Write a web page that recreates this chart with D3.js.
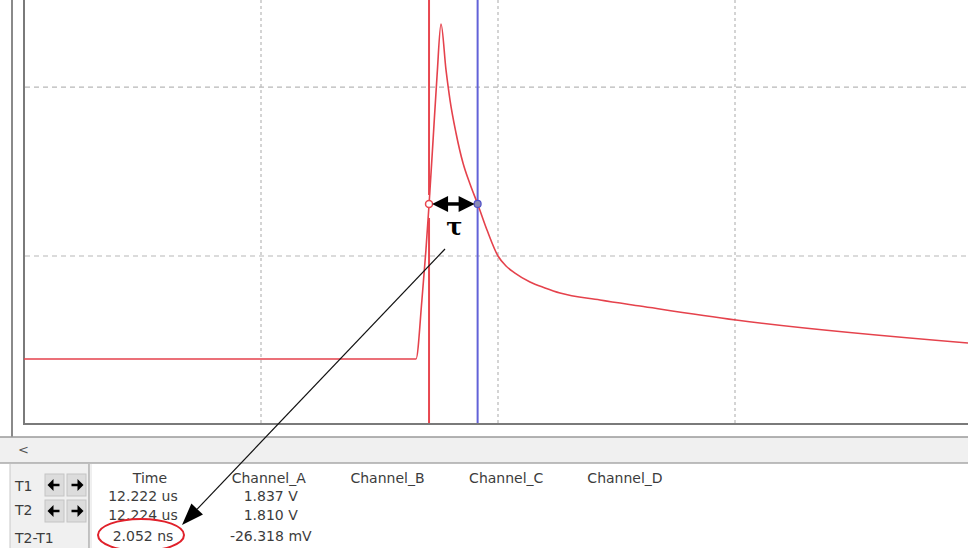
<!DOCTYPE html>
<html>
<head>
<meta charset="utf-8">
<script src="https://cdn.jsdelivr.net/npm/d3@7"></script>
<style>
  body { margin: 0; background: #fff; }
  svg { display: block; }
</style>
</head>
<body>
<script>
// waveform of Channel_A, time in ns, amplitude in screen divisions
var times  = [0, 16.54, 16.79, 16.96, 17.09, 17.26, 17.43, 17.595, 17.806, 17.975, 18.228, 18.523, 18.819, 19.156, 19.536, 20.000, 20.338, 20.717, 21.350, 21.983, 22.616, 24.304, 25.992, 30.042, 39.831];
var levels = [0.391, 0.391, 0.740, 1.036, 1.302, 1.686, 2.071, 2.373, 2.101, 1.923, 1.728, 1.550, 1.426, 1.302, 1.154, 1.000, 0.941, 0.899, 0.846, 0.811, 0.781, 0.740, 0.704, 0.621, 0.485];

// cursors
var cursorT1 = 17.09, cursorT2 = 19.14, cursorLevel = 1.308;

// grid
var xGrid = [10, 20, 30];
var yGrid = [1, 2];

// readout table
var columns = ["Time", "Channel_A", "Channel_B", "Channel_C", "Channel_D"];
var rowNames = ["T1", "T2", "T2-T1"];
var timeCol = ["12.222 us", "12.224 us", "2.052 ns"];
var chanACol = ["1.837 V", "1.810 V", "-26.318 mV"];

var W = 968, H = 548;
var plotLeft = 24, plotBottom = 425;

var svg = d3.select("body").append("svg")
    .attr("width", W)
    .attr("height", H)
    .style("font-family", "DejaVu Sans, sans-serif");

var x = d3.scaleLinear().domain([0, 40]).range([plotLeft, 972]);
var y = d3.scaleLinear().domain([0, 2.515]).range([plotBottom, 0]);

// plot frame
svg.append("rect").attr("x", 0).attr("y", 0).attr("width", W).attr("height", H).attr("fill", "#fff");
svg.append("line").attr("x1", 12).attr("x2", 12).attr("y1", 0).attr("y2", 437)
    .attr("stroke", "#8a8a8a").attr("stroke-width", 2);
svg.append("line").attr("x1", plotLeft).attr("x2", plotLeft).attr("y1", 0).attr("y2", plotBottom)
    .attr("stroke", "#7a7a7a").attr("stroke-width", 2);
svg.append("line").attr("x1", plotLeft).attr("x2", W).attr("y1", plotBottom - 1).attr("y2", plotBottom - 1)
    .attr("stroke", "#7a7a7a").attr("stroke-width", 2);

// grid lines
svg.selectAll(".vgrid").data(xGrid).enter().append("line")
    .attr("class", "vgrid")
    .attr("x1", function(d) { return x(d); })
    .attr("x2", function(d) { return x(d); })
    .attr("y1", 0).attr("y2", plotBottom - 2)
    .attr("stroke", "#b8b8b8").attr("stroke-width", 1.2)
    .attr("stroke-dasharray", "3,3");

svg.selectAll(".hgrid").data(yGrid).enter().append("line")
    .attr("class", "hgrid")
    .attr("x1", plotLeft + 1).attr("x2", W)
    .attr("y1", function(d) { return y(d); })
    .attr("y2", function(d) { return y(d); })
    .attr("stroke", "#b8b8b8").attr("stroke-width", 1.2)
    .attr("stroke-dasharray", "5,4");

// cursors
var cy = y(cursorLevel);
svg.append("line").attr("x1", x(cursorT1)).attr("x2", x(cursorT1)).attr("y1", 0).attr("y2", cy - 9)
    .attr("stroke", "#e8474f").attr("stroke-width", 2);
svg.append("line").attr("x1", x(cursorT1)).attr("x2", x(cursorT1)).attr("y1", cy + 14).attr("y2", plotBottom - 2)
    .attr("stroke", "#e8474f").attr("stroke-width", 2);
svg.append("line").attr("x1", x(cursorT2)).attr("x2", x(cursorT2)).attr("y1", 0).attr("y2", plotBottom - 2)
    .attr("stroke", "#6262d8").attr("stroke-width", 2);

// waveform
var line = d3.line()
    .x(function(d, i) { return x(times[i]); })
    .y(function(d) { return y(d); })
    .curve(d3.curveMonotoneX);

svg.append("path")
    .datum(levels)
    .attr("d", line)
    .attr("fill", "none")
    .attr("stroke", "#e5424c")
    .attr("stroke-width", 1.6);

// cursor markers
svg.append("circle").attr("cx", x(cursorT1)).attr("cy", cy).attr("r", 3.5)
    .attr("fill", "#fff").attr("stroke", "#e8474f").attr("stroke-width", 1.5);
svg.append("circle").attr("cx", x(cursorT2)).attr("cy", cy).attr("r", 3.5)
    .attr("fill", "#8a8ab8").attr("stroke", "#5050c8").attr("stroke-width", 1.2);

// tau double arrow
var ax1 = x(cursorT1) + 3, ax2 = x(cursorT2) - 3;
svg.append("line").attr("x1", ax1 + 10).attr("x2", ax2 - 10).attr("y1", cy).attr("y2", cy)
    .attr("stroke", "#000").attr("stroke-width", 3.5);
svg.append("path")
    .attr("d", "M" + ax1 + "," + cy + "L" + (ax1 + 16) + "," + (cy - 8) + "L" + (ax1 + 16) + "," + (cy + 8) + "Z")
    .attr("fill", "#000");
svg.append("path")
    .attr("d", "M" + ax2 + "," + cy + "L" + (ax2 - 16) + "," + (cy - 8) + "L" + (ax2 - 16) + "," + (cy + 8) + "Z")
    .attr("fill", "#000");
svg.append("text")
    .attr("x", (x(cursorT1) + x(cursorT2)) / 2 + 1)
    .attr("y", cy + 31)
    .attr("text-anchor", "middle")
    .style("font", "bold 24px 'DejaVu Serif', serif")
    .text("τ");

// scroll band
svg.append("rect").attr("x", 0).attr("y", 437).attr("width", W).attr("height", 26).attr("fill", "#f0f0f0");
svg.append("line").attr("x1", 0).attr("x2", W).attr("y1", 437).attr("y2", 437).attr("stroke", "#9a9a9a").attr("stroke-width", 1.5);
svg.append("line").attr("x1", 0).attr("x2", W).attr("y1", 463).attr("y2", 463).attr("stroke", "#a8a8a8").attr("stroke-width", 1.5);
svg.append("text").attr("x", 18).attr("y", 454).attr("fill", "#555").style("font-size", "13px").text("<");

// left control panel
svg.append("rect").attr("x", 10).attr("y", 464).attr("width", 79).attr("height", 84).attr("fill", "#f0f0f0");
svg.append("line").attr("x1", 10).attr("x2", 10).attr("y1", 464).attr("y2", H).attr("stroke", "#c8c8c8");
svg.append("line").attr("x1", 89).attr("x2", 89).attr("y1", 464).attr("y2", H).attr("stroke", "#b0b0b0").attr("stroke-width", 1.5);
svg.append("line").attr("x1", 91).attr("x2", 91).attr("y1", 464).attr("y2", H).attr("stroke", "#e0e0e0");

var rowBase = [491, 515, 543];
svg.selectAll(".rowname").data(rowNames).enter().append("text")
    .attr("class", "rowname")
    .attr("x", 15)
    .attr("y", function(d, i) { return rowBase[i]; })
    .attr("fill", "#3c3c3c")
    .style("font-size", "14px")
    .text(function(d) { return d; });

[0, 1].forEach(function(r) {
  var top = r == 0 ? 474 : 500;
  [[45, -1], [67, 1]].forEach(function(b) {
    svg.append("rect").attr("x", b[0]).attr("y", top).attr("width", 19).attr("height", 22)
        .attr("fill", "#dcdcdc").attr("stroke", "#c4c4c4");
    var cx0 = b[0] + 9.5, cy0 = top + 11, dir = b[1];
    svg.append("line").attr("x1", cx0 - 5 * dir).attr("x2", cx0 + 5 * dir).attr("y1", cy0).attr("y2", cy0)
        .attr("stroke", "#000").attr("stroke-width", 2.5);
    svg.append("path")
        .attr("d", "M" + (cx0 + 7 * dir) + "," + cy0 + "L" + (cx0 + 1 * dir) + "," + (cy0 - 6) + "L" + (cx0 + 1 * dir) + "," + (cy0 + 6) + "Z")
        .attr("fill", "#000");
  });
});

// readout table
var colX = d3.scalePoint().domain(columns).range([150, 625]);
svg.selectAll(".colhead").data(columns).enter().append("text")
    .attr("class", "colhead")
    .attr("x", function(d) { return colX(d); })
    .attr("y", 483)
    .attr("text-anchor", "middle")
    .attr("fill", "#3c3c3c")
    .style("font-size", "14px")
    .text(function(d) { return d; });

var valBase = [501, 520, 541];
svg.selectAll(".timeval").data(timeCol).enter().append("text")
    .attr("class", "timeval")
    .attr("x", colX("Time") - 7)
    .attr("y", function(d, i) { return valBase[i]; })
    .attr("text-anchor", "middle")
    .attr("fill", "#3c3c3c")
    .style("font-size", "14px")
    .text(function(d) { return d; });

svg.selectAll(".aval").data(chanACol).enter().append("text")
    .attr("class", "aval")
    .attr("x", colX("Channel_A") + 2)
    .attr("y", function(d, i) { return valBase[i]; })
    .attr("text-anchor", "middle")
    .attr("fill", "#3c3c3c")
    .style("font-size", "14px")
    .text(function(d) { return d; });

// pointer from tau to the T2-T1 readout, drawn on top of everything
var p0 = [445, 249], p1 = [182, 525];
var ang = Math.atan2(p1[1] - p0[1], p1[0] - p0[0]);
var headLen = 22, headW = 8;
var bx = p1[0] - headLen * Math.cos(ang), by = p1[1] - headLen * Math.sin(ang);
svg.append("line").attr("x1", p0[0]).attr("y1", p0[1]).attr("x2", bx).attr("y2", by)
    .attr("stroke", "#111").attr("stroke-width", 1.2);
svg.append("path")
    .attr("d", "M" + p1[0] + "," + p1[1] +
        "L" + (bx + headW * Math.sin(ang)) + "," + (by - headW * Math.cos(ang)) +
        "L" + (bx - headW * Math.sin(ang)) + "," + (by + headW * Math.cos(ang)) + "Z")
    .attr("fill", "#000");

// red ring round the measured interval
svg.append("ellipse").attr("cx", 141).attr("cy", 535).attr("rx", 43).attr("ry", 16)
    .attr("fill", "none").attr("stroke", "#e0202a").attr("stroke-width", 2);
</script>
</body>
</html>
